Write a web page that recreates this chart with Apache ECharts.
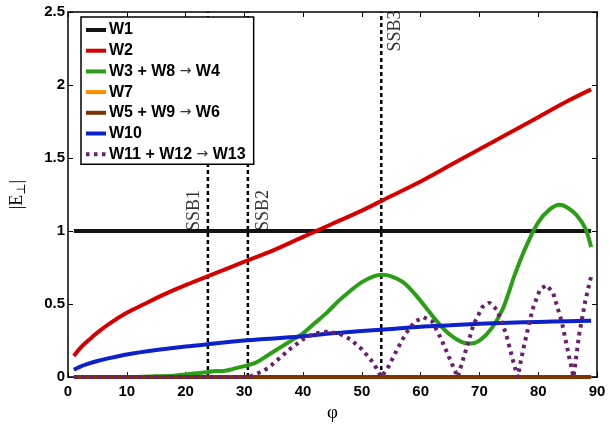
<!DOCTYPE html>
<html>
<head>
<meta charset="utf-8">
<script src="https://cdn.jsdelivr.net/npm/echarts@6/dist/echarts.min.js"></script>
<style>html,body{margin:0;padding:0;background:#fff}#c{width:610px;height:428px}</style>
</head>
<body>
<div id="c"></div>
<script>
// ---- data ----
const seriesNames = ['W1', 'W2', 'W3 + W8 → W4', 'W7', 'W5 + W9 → W6', 'W10', 'W11 + W12 → W13'];
const xTicks = [0, 10, 20, 30, 40, 50, 60, 70, 80, 90];
const yTicks = [0, 0.5, 1, 1.5, 2, 2.5];

const xFlat = [1, 89];
const w1 = [1, 1];
const w7 = [0, 0];
const w5 = [0, 0];

const xW2 = [1, 2, 3, 4, 5, 7, 10, 13, 16, 20, 25, 30, 35, 40, 45, 50, 55, 60, 65, 70, 75, 80, 85, 89];
const w2 = [0.145, 0.195, 0.235, 0.27, 0.305, 0.365, 0.44, 0.5, 0.56, 0.63, 0.71, 0.79, 0.87, 0.96, 1.05, 1.14, 1.24, 1.34, 1.45, 1.56, 1.67, 1.78, 1.89, 1.97];

const xW10 = [1, 2, 3, 5, 7, 10, 15, 20, 25, 30, 35, 40, 45, 50, 55, 60, 65, 70, 75, 80, 85, 89];
const w10 = [0.05, 0.07, 0.085, 0.11, 0.13, 0.155, 0.185, 0.21, 0.23, 0.25, 0.265, 0.28, 0.3, 0.315, 0.33, 0.345, 0.355, 0.365, 0.372, 0.378, 0.383, 0.386];

const xW3 = [1, 10, 15, 18, 20, 22, 24, 25, 26, 27, 28, 30, 32, 34, 36, 38, 40, 42, 44, 46, 48, 50, 52, 53.5, 55, 57, 59, 61, 63, 65, 67, 68.5, 70, 72, 74, 76, 78, 80, 82, 83.7, 85, 86.5, 88, 89];
const w3 = [0, 0, 0.005, 0.01, 0.018, 0.027, 0.035, 0.042, 0.04, 0.045, 0.055, 0.075, 0.1, 0.15, 0.2, 0.25, 0.3, 0.37, 0.44, 0.52, 0.59, 0.65, 0.69, 0.70, 0.69, 0.65, 0.57, 0.47, 0.37, 0.29, 0.24, 0.23, 0.25, 0.33, 0.47, 0.7, 0.9, 1.06, 1.15, 1.18, 1.16, 1.11, 1.02, 0.89];

const xW11 = [1, 30, 31, 32, 34, 36, 38, 40, 42, 44, 46, 48, 50, 51.5, 52.5, 53.3, 54.5, 56, 57.5, 59, 60.5, 62, 63.5, 65, 66.3, 67.5, 69, 70.5, 71.7, 73, 74.5, 75.8, 76.5, 77.5, 79, 80.3, 81.4, 82.5, 84, 85.2, 86, 87, 88, 89];
const w11 = [0, 0, 0.005, 0.02, 0.06, 0.13, 0.2, 0.26, 0.3, 0.31, 0.3, 0.26, 0.19, 0.12, 0.06, 0.0, 0.07, 0.19, 0.3, 0.38, 0.41, 0.38, 0.26, 0.12, 0.0, 0.16, 0.36, 0.48, 0.51, 0.46, 0.3, 0.1, 0.0, 0.2, 0.46, 0.6, 0.63, 0.58, 0.38, 0.15, 0.0, 0.3, 0.52, 0.69];

const ssbX = [23.8, 30.6, 53.3];
const ssbNames = ['SSB1', 'SSB2', 'SSB3'];
const ssbLabelY = [1.0, 1.0, 2.23];

// ---- build ----
const pairs = (xs, ys) => xs.map((x, i) => [x, ys[i]]);
const colors = ['#141414', '#d40000', '#2a9e14', '#ff8a00', '#7f3300', '#0b22c8', '#6b1f6f'];
const seriesData = [pairs(xFlat, w1), pairs(xW2, w2), pairs(xW3, w3), pairs(xFlat, w7), pairs(xFlat, w5), pairs(xW10, w10), pairs(xW11, w11)];

const series = [];
ssbX.forEach((x, i) => {
  series.push({
    type: 'line', name: ssbNames[i], data: [[x, 0], [x, 2.5]], symbol: 'none', silent: true,
    lineStyle: { color: '#000', width: 2.5, type: [4, 3] }, z: 1
  });
});
const labelDx = [-2.3, 2.7, 2.4];
series.push({
  type: 'scatter', name: 'ssbLabels', symbolSize: 0, silent: true, z: 3,
  data: ssbX.map((x, i) => ({ value: [x + labelDx[i], ssbLabelY[i]], name: ssbNames[i] })),
  label: {
    show: true, position: 'inside', formatter: p => p.name, rotate: 90,
    align: 'left', verticalAlign: 'middle',
    fontFamily: 'Liberation Serif', fontSize: 18, color: '#000'
  }
});
seriesNames.forEach((n, i) => {
  series.push({
    type: 'line', name: n, data: seriesData[i], symbol: 'none',
    smooth: (i === 1 || i === 2 || i === 5) ? 0.3 : false,
    lineStyle: { color: colors[i], width: 4, type: i === 6 ? [3.5, 4.5] : 'solid', cap: 'butt' },
    itemStyle: { color: colors[i] }, z: 2
  });
});

const axisFont = { fontFamily: 'Liberation Sans', fontWeight: 'bold', fontSize: 15, color: '#000' };
const chart = echarts.init(document.getElementById('c'), null, { renderer: 'canvas' });
chart.setOption({
  animation: false,
  backgroundColor: '#fff',
  grid: { left: 68, right: 13, top: 12, bottom: 40 },
  legend: {
    data: seriesNames, orient: 'vertical', left: 81, top: 17,
    backgroundColor: '#fff', borderColor: '#000', borderWidth: 1.5,
    padding: [5, 8, 2, 3], itemWidth: 20, itemHeight: 14, itemGap: 4.7,
    lineStyle: { width: 4 },
    itemStyle: { opacity: 0 },
    textStyle: { fontFamily: 'Liberation Sans', fontWeight: 'bold', fontSize: 16, color: '#000', padding: [0, 0, 0, -2],
      rich: { a: { fontFamily: 'DejaVu Sans', fontWeight: 'normal', fontSize: 14, color: '#333' } } },
    formatter: n => n.replace('→', '{a|→}'),
    selectedMode: false
  },
  xAxis: [{
    type: 'value', min: 0, max: 90, interval: 10, position: 'bottom',
    name: 'φ', nameLocation: 'middle', nameGap: 24,
    nameTextStyle: { fontFamily: 'Liberation Serif', fontSize: 19, color: '#000' },
    axisLine: { onZero: false, lineStyle: { color: '#000', width: 1.5 } },
    axisTick: { inside: true, length: 5, lineStyle: { color: '#000', width: 1 } },
    axisLabel: Object.assign({ margin: 7, formatter: v => xTicks.includes(v) ? String(v) : '' }, axisFont),
    splitLine: { show: false }
  }, {
    type: 'value', min: 0, max: 90, interval: 10, position: 'top',
    axisLine: { onZero: false, lineStyle: { color: '#000', width: 1.5 } },
    axisTick: { inside: true, length: 5, lineStyle: { color: '#000', width: 1 } },
    axisLabel: { show: false }, splitLine: { show: false }
  }],
  yAxis: [{
    type: 'value', min: 0, max: 2.5, interval: 0.5, position: 'left',
    name: '|E{s|⊥}|', nameLocation: 'middle', nameGap: 40, nameRotate: 90,
    nameTextStyle: { fontFamily: 'Liberation Serif', fontSize: 18, color: '#000',
      rich: { s: { fontFamily: 'DejaVu Serif', fontSize: 12, color: '#000', padding: [10, 0, 0, 0] } } },
    axisLine: { onZero: false, lineStyle: { color: '#000', width: 1.5 } },
    axisTick: { inside: true, length: 5, lineStyle: { color: '#000', width: 1 } },
    axisLabel: Object.assign({ margin: 3, formatter: v => yTicks.includes(v) ? String(v) : '' }, axisFont),
    splitLine: { show: false }
  }, {
    type: 'value', min: 0, max: 2.5, interval: 0.5, position: 'right',
    axisLine: { onZero: false, lineStyle: { color: '#000', width: 1.5 } },
    axisTick: { inside: true, length: 5, lineStyle: { color: '#000', width: 1 } },
    axisLabel: { show: false }, splitLine: { show: false }
  }],
  series: series
});
</script>
</body>
</html>
